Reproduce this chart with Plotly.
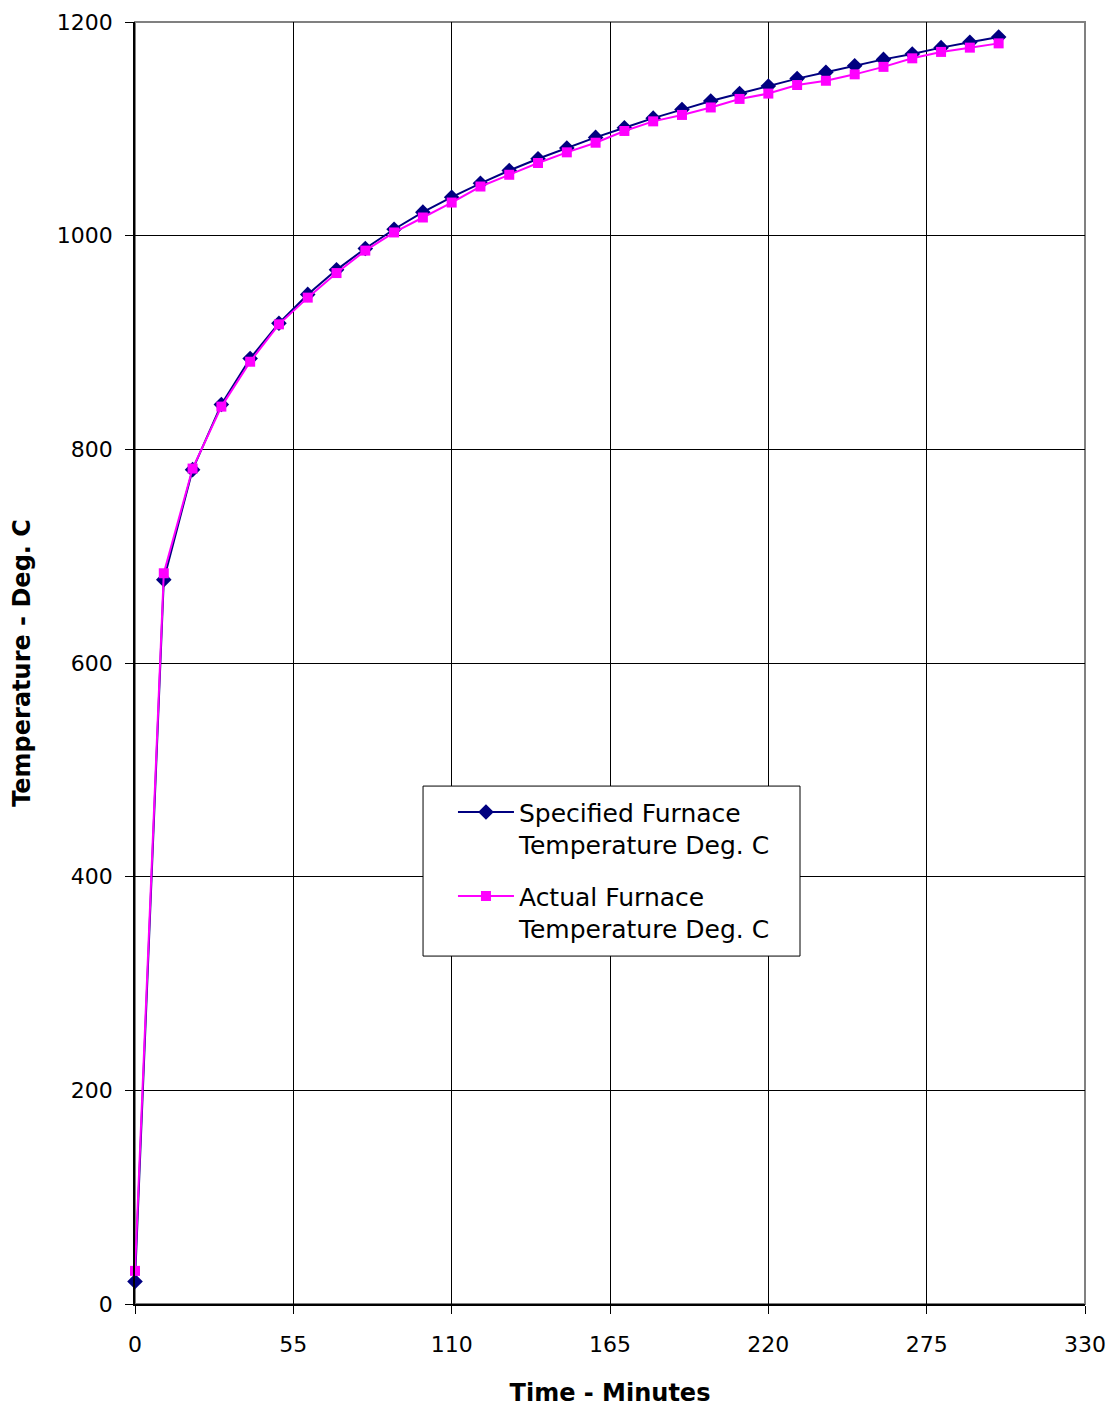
import plotly.graph_objects as go

time_min = [0, 10, 20, 30, 40, 50, 60, 70, 80, 90, 100, 110, 120, 130, 140, 150,
            160, 170, 180, 190, 200, 210, 220, 230, 240, 250, 260, 270, 280, 290, 300]
specified = [21, 678, 781, 842, 885, 918, 945, 968, 988, 1006, 1022, 1036, 1049, 1061,
             1072, 1082, 1092, 1101, 1110, 1118, 1126, 1133, 1140, 1147, 1153, 1159,
             1165, 1170, 1176, 1181, 1186]
actual = [31, 684, 782, 840, 882, 917, 942, 965, 986, 1003, 1017, 1031, 1046, 1057,
          1068, 1078, 1087, 1098, 1107, 1113, 1120, 1128, 1133, 1141, 1145, 1151,
          1158, 1166, 1172, 1176, 1180]
x_ticks = [0, 55, 110, 165, 220, 275, 330]
y_ticks = [0, 200, 400, 600, 800, 1000, 1200]

font_family = "DejaVu Sans, Verdana, sans-serif"

fig = go.Figure()
fig.add_trace(go.Scatter(
    x=time_min, y=specified, mode="lines+markers",
    name="Specified Furnace<br>Temperature Deg. C",
    legendgroup="spec",
    line=dict(color="#000080", width=2),
    marker=dict(symbol="diamond", size=12, color="#000080"),
    cliponaxis=False,
))
fig.add_trace(go.Scatter(
    x=time_min, y=actual, mode="lines+markers",
    name="Actual Furnace<br>Temperature Deg. C",
    legendgroup="act",
    line=dict(color="#FF00FF", width=2),
    marker=dict(symbol="square", size=10, color="#FF00FF"),
    cliponaxis=False,
))

fig.update_layout(
    width=1120, height=1409,
    margin=dict(l=127, r=43, t=14, b=113),
    paper_bgcolor="white", plot_bgcolor="white",
    font=dict(family=font_family, size=22, color="black"),
    showlegend=True,
    legend=dict(
        x=0.3347, y=0.4015, xanchor="left", yanchor="top",
        bgcolor="rgba(0,0,0,0)", borderwidth=0,
        font=dict(size=25, family=font_family),
        traceorder="grouped", tracegroupgap=16, itemwidth=56,
        valign="top",
    ),
)
fig.update_xaxes(
    range=[0, 330], tickvals=x_ticks, ticktext=[str(v) for v in x_ticks],
    showgrid=True, gridcolor="black", gridwidth=1,
    showline=True, linecolor="black", linewidth=1.5, mirror=False,
    ticks="outside", ticklen=8, tickcolor="black",
    ticklabelstandoff=12, ticklabeloverflow="allow",
    zeroline=False, automargin=False,
    title=dict(text="<b>Time - Minutes</b>", font=dict(size=24), standoff=28),
    tickfont=dict(size=22),
)
fig.update_yaxes(
    range=[0, 1200], tickvals=y_ticks, ticktext=[str(v) for v in y_ticks],
    showgrid=True, gridcolor="black", gridwidth=1,
    showline=True, linecolor="black", linewidth=1.5,
    ticks="outside", ticklen=8, tickcolor="black",
    ticklabelstandoff=8, ticklabeloverflow="allow",
    zeroline=False, automargin=False,
    title=dict(text="<b>Temperature - Deg. C</b>", font=dict(size=24), standoff=20),
    tickfont=dict(size=22),
)
# grey frame on top and right
fig.add_shape(type="rect", xref="paper", yref="paper", x0=0, y0=0, x1=1, y1=1,
              line=dict(color="#808080", width=2), layer="below")
# legend box (opaque, covering grid)
fig.add_shape(type="rect", xref="paper", yref="paper",
              x0=0.3032, x1=0.70, y0=0.2714, y1=0.4040,
              line=dict(color="black", width=1), fillcolor="white", layer="above")

fig.write_html("out.html")
